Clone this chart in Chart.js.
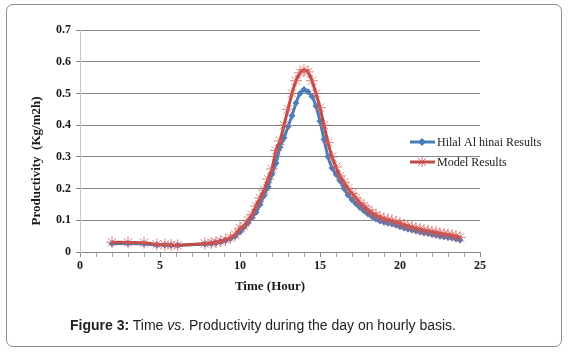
<!DOCTYPE html>
<html><head><meta charset="utf-8">
<script src="https://cdn.jsdelivr.net/npm/chart.js@4"></script>
<style>
html,body{margin:0;padding:0;background:#fff;}
#wrap{position:relative;width:569px;height:353px;overflow:hidden;}
#box{position:absolute;left:6px;top:4px;width:556px;height:343px;border:1px solid #8e8e8e;border-radius:7px;box-sizing:border-box;}
#cap{position:absolute;left:70px;top:317px;font-family:"Liberation Sans",Arial,sans-serif;font-size:14px;color:#222;white-space:nowrap;}
canvas{position:absolute;left:0;top:0;}
</style></head>
<body><div id="wrap"><div id="box"></div>
<canvas id="c" width="569" height="353"></canvas>
<div id="cap"><b>Figure 3:</b> Time <i>vs</i>. Productivity during the day on hourly basis.</div></div>
<script>
const hours = [2,3,4,4.8,5.3,5.7,6.1,7.8,8.2,8.5,8.8,9.1,9.4,9.7,10,10.25,10.5,10.75,11,11.25,11.5,11.75,12,12.25,12.5,12.75,13,13.25,13.5,13.75,14,14.25,14.5,14.75,15,15.25,15.5,15.75,16,16.25,16.5,16.75,17,17.25,17.5,17.75,18,18.25,18.5,18.75,19,19.25,19.5,19.75,20,20.25,20.5,20.75,21,21.25,21.5,21.75,22,22.25,22.5,22.75,23,23.25,23.5,23.75];
const hilalResults = [0.027,0.027,0.026,0.022,0.022,0.021,0.021,0.025,0.027,0.029,0.032,0.036,0.042,0.050,0.063,0.078,0.092,0.108,0.125,0.150,0.178,0.205,0.245,0.280,0.330,0.360,0.395,0.430,0.470,0.500,0.512,0.505,0.490,0.460,0.412,0.355,0.300,0.265,0.245,0.225,0.200,0.180,0.165,0.152,0.140,0.130,0.120,0.112,0.104,0.098,0.094,0.091,0.088,0.084,0.080,0.076,0.072,0.069,0.066,0.063,0.060,0.058,0.055,0.053,0.050,0.048,0.046,0.044,0.041,0.038];
const modelResults = [0.031,0.030,0.029,0.024,0.023,0.022,0.021,0.027,0.029,0.031,0.034,0.038,0.045,0.055,0.075,0.082,0.100,0.118,0.145,0.170,0.195,0.230,0.262,0.320,0.350,0.400,0.450,0.500,0.540,0.565,0.575,0.568,0.540,0.500,0.455,0.400,0.345,0.300,0.268,0.240,0.220,0.200,0.185,0.170,0.155,0.145,0.133,0.124,0.116,0.110,0.105,0.102,0.099,0.095,0.090,0.086,0.082,0.078,0.075,0.072,0.069,0.067,0.064,0.062,0.059,0.057,0.055,0.053,0.050,0.046];
const seriesNames = ["Hilal Al hinai Results","Model Results"];
const xTitle = "Time (Hour)";
const yTitle = "Productivity  (Kg/m2h)";

const BLUE = "#4a7ebb", RED = "#be4b48";
const serif = "'Liberation Serif','Times New Roman',serif";

const overlay = {
  id:'overlay',
  afterDraw(chart){
    const ctx = chart.ctx;
    ctx.save();
    ctx.fillStyle = "#1a1a1a";
    ctx.font = "bold 13px " + serif;
    ctx.textAlign = "center"; ctx.textBaseline = "middle";
    ctx.fillText(xTitle, 270, 287);
    ctx.translate(37, 161); ctx.rotate(-Math.PI/2);
    ctx.fillText(yTitle, 0, 0);
    ctx.restore();
    const rows = [{y:142,c:BLUE,m:'d'},{y:162,c:RED,m:'s'}];
    rows.forEach((r,i)=>{
      ctx.save();
      ctx.strokeStyle = r.c; ctx.lineWidth = 3;
      ctx.beginPath(); ctx.moveTo(410, r.y); ctx.lineTo(435, r.y); ctx.stroke();
      const cx = 422;
      if(r.m==='d'){
        ctx.fillStyle = r.c; ctx.beginPath();
        ctx.moveTo(cx, r.y-4); ctx.lineTo(cx+4, r.y); ctx.lineTo(cx, r.y+4); ctx.lineTo(cx-4, r.y); ctx.closePath(); ctx.fill();
      } else {
        ctx.lineWidth = 1; ctx.strokeStyle = "rgba(200,80,77,0.8)";
        ctx.beginPath();
        ctx.moveTo(cx-4,r.y-4); ctx.lineTo(cx+4,r.y+4);
        ctx.moveTo(cx+4,r.y-4); ctx.lineTo(cx-4,r.y+4);
        ctx.moveTo(cx,r.y-5); ctx.lineTo(cx,r.y+5);
        ctx.stroke();
      }
      ctx.fillStyle = "#1a1a1a"; ctx.font = "12px " + serif;
      ctx.textAlign = "left"; ctx.textBaseline = "middle";
      ctx.fillText(seriesNames[i], 437, r.y+1);
      ctx.restore();
    });
  }
};

new Chart(document.getElementById('c'), {
  type:'line',
  data:{
    datasets:[
      {label:seriesNames[1], data:hours.map((h,i)=>({x:h,y:modelResults[i]})),
       borderColor:RED, borderWidth:3, pointStyle:'star', pointRadius:6,
       pointBorderColor:"rgba(210,90,87,0.75)", pointBorderWidth:1, pointBackgroundColor:"transparent", tension:0.2, order:2},
      {label:seriesNames[0], data:hours.map((h,i)=>({x:h,y:hilalResults[i]})),
       borderColor:BLUE, borderWidth:3, pointStyle:'rectRot', pointRadius:3.5,
       pointBackgroundColor:BLUE, pointBorderColor:BLUE, pointBorderWidth:0, tension:0.2, order:3}
    ]
  },
  options:{
    responsive:false, animation:false,
    layout:{padding:{left:0,top:30,right:89,bottom:81}},
    plugins:{legend:{display:false}, tooltip:{enabled:false}},
    scales:{
      x:{type:'linear', min:0, max:25,
        afterFit(s){ s.height = 20; },
        ticks:{stepSize:1, autoSkip:false, maxRotation:0, color:"#1a1a1a", padding:2,
          font:{family:serif, weight:'bold', size:12},
          callback:(v)=> (v%5===0 ? String(v) : '')},
        grid:{drawOnChartArea:false, tickLength:5,
          color:(c)=> (c.tick && c.tick.value%5===0) ? "#868686" : "#a8a8a8"},
        border:{color:"#868686", width:1}
      },
      y:{min:0, max:0.7,
        afterFit(s){ s.width = 80; },
        ticks:{stepSize:0.1, color:"#1a1a1a", padding:5,
          font:{family:serif, weight:'bold', size:12},
          callback:(v)=> String(Math.round(v*10)/10)},
        grid:{color:"#868686", lineWidth:1, tickLength:4},
        border:{color:"#c8c8c8", width:1}
      }
    }
  },
  plugins:[overlay]
});
</script></body></html>
